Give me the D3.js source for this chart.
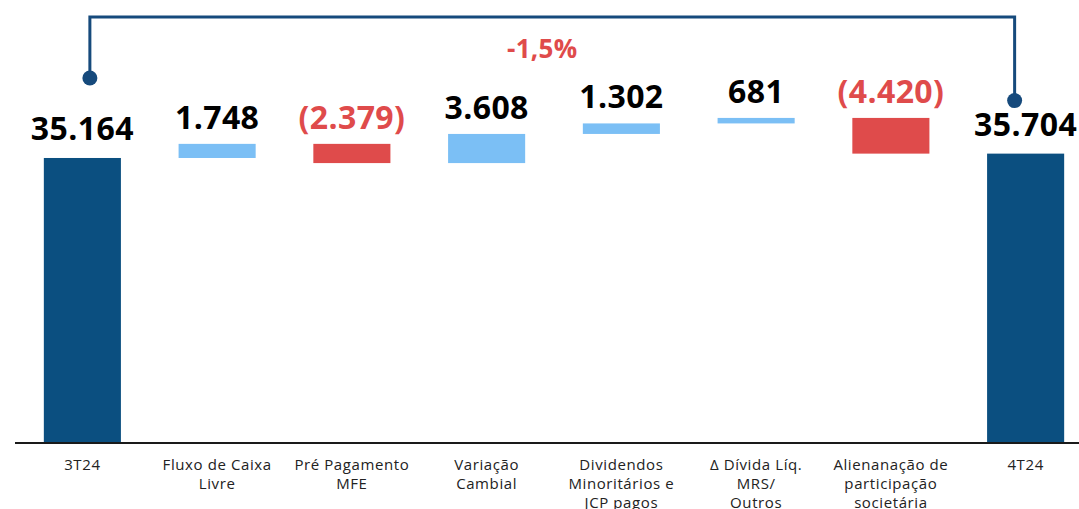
<!DOCTYPE html>
<html>
<head>
<meta charset="utf-8">
<script src="https://cdn.jsdelivr.net/npm/d3@7"></script>
<style>
  body { margin: 0; background: #fff; }
  svg { display: block; }
</style>
</head>
<body>
<div id="chart"></div>
<script>
// categories (lines of each axis label)
const categories = ["3T24", "Fluxo de Caixa|Livre", "Pré Pagamento|MFE", "Variação|Cambial",
  "Dividendos|Minoritários e|JCP pagos", "Δ Dívida Líq.|MRS/|Outros",
  "Alienanação de|participação|societária", "4T24"];
// change per step; first and last are totals
const values = [35164, 1748, -2379, 3608, 1302, 681, -4420, 35704];
const isTotal = [true, false, false, false, false, false, false, true];
const changeLabel = "-1,5%";

const W = 1079, H = 509;
const svg = d3.select("#chart").append("svg").attr("width", W).attr("height", H);

const x = d3.scaleBand().domain(categories).range([15, 1093])
  .paddingInner(0.428).paddingOuter(0.214);
const y = d3.scaleLinear().domain([0, 54724]).range([442, 0]);

const loc = d3.formatLocale({decimal: ",", thousands: ".", grouping: [3], currency: ["", ""]});
const fmt = loc.format(",d");
const label = v => v < 0 ? "(" + fmt(-v) + ")" : fmt(v);

// running totals
let run = 0;
const bars = categories.map((c, i) => {
  let y0, y1;
  if (isTotal[i]) { y0 = 0; y1 = values[i]; run = values[i]; }
  else { y0 = run; y1 = run + values[i]; run = y1; }
  return {c, v: values[i], lo: Math.min(y0, y1), hi: Math.max(y0, y1), total: isTotal[i]};
});

const DARK = "#0b4f80", LIGHT = "#7bbff5", RED = "#df4b4b";

svg.append("g").selectAll("rect").data(bars).join("rect")
  .attr("x", d => x(d.c))
  .attr("width", x.bandwidth())
  .attr("y", d => y(d.hi))
  .attr("height", d => y(d.lo) - y(d.hi))
  .attr("fill", d => d.total ? DARK : (d.v < 0 ? RED : LIGHT));

svg.append("g").selectAll("text").data(bars).join("text")
  .attr("x", d => x(d.c) + x.bandwidth() / 2)
  .attr("y", d => y(d.hi) - (d.total ? 18 : 15))
  .attr("text-anchor", "middle")
  .attr("font-family", "Open Sans")
  .attr("font-weight", 700)
  .attr("font-size", 32)
  .attr("letter-spacing", 0.4)
  .attr("fill", d => d.v < 0 ? RED : "#000")
  .text(d => label(d.v));

// baseline
svg.append("line")
  .attr("x1", 15).attr("x2", W)
  .attr("y1", y(0) + 1).attr("y2", y(0) + 1)
  .attr("stroke", "#1a1a1a").attr("stroke-width", 2);

// category labels
const cat = svg.append("g").selectAll("text").data(categories).join("text")
  .attr("x", d => x(d) + x.bandwidth() / 2)
  .attr("y", 470)
  .attr("text-anchor", "middle")
  .attr("font-family", "Open Sans")
  .attr("font-size", 15)
  .attr("letter-spacing", 0.6)
  .attr("fill", "#222");
cat.selectAll("tspan").data(d => d.split("|")).join("tspan")
  .attr("x", function() { return this.parentNode.getAttribute("x"); })
  .attr("dy", (d, i) => i === 0 ? 0 : 19)
  .text(d => d);

// bracket between first and last totals
const first = categories[0], last = categories[categories.length - 1];
const bx0 = x(first) + x.bandwidth() / 2 + 7.5;
const bx1 = x(last) + x.bandwidth() / 2 - 11;
const by0 = y(values[0]) - 80, by1 = y(values[values.length - 1]) - 53, bTop = 17;
const LINE = "#164a7c";
svg.append("path")
  .attr("d", `M${bx0},${by0}V${bTop}H${bx1}V${by1}`)
  .attr("fill", "none").attr("stroke", LINE).attr("stroke-width", 3);
svg.append("circle").attr("cx", bx0).attr("cy", by0).attr("r", 7.5).attr("fill", LINE);
svg.append("circle").attr("cx", bx1).attr("cy", by1).attr("r", 7.5).attr("fill", LINE);

svg.append("text")
  .attr("x", (bx0 + bx1) / 2 - 10)
  .attr("y", 58)
  .attr("text-anchor", "middle")
  .attr("font-family", "Open Sans")
  .attr("font-weight", 700)
  .attr("font-size", 26)
  .attr("letter-spacing", 0.3)
  .attr("fill", RED)
  .text(changeLabel);
</script>
</body>
</html>
